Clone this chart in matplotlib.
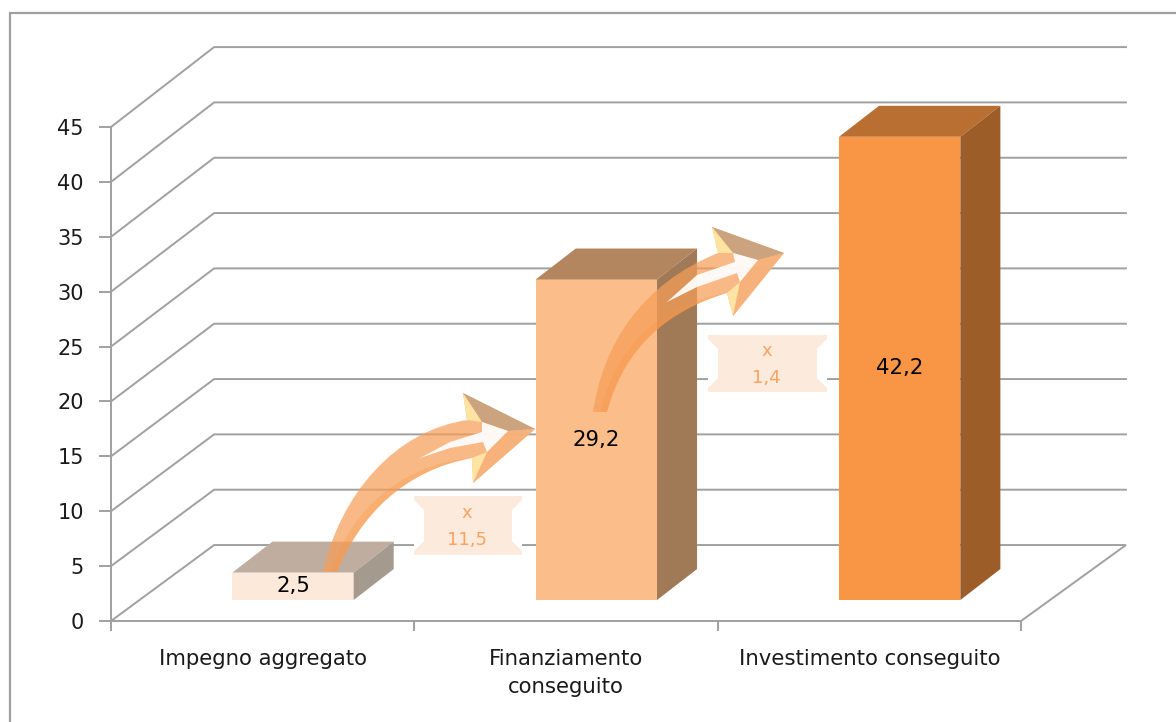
import matplotlib
matplotlib.use('Agg')
import matplotlib.pyplot as plt
from matplotlib.patches import PathPatch, Polygon, Rectangle
from matplotlib.path import Path

categories = ['Impegno aggregato', 'Finanziamento\nconseguito', 'Investimento conseguito']
values = [2.5, 29.2, 42.2]
value_labels = ['2,5', '29,2', '42,2']
y_ticks = [0, 5, 10, 15, 20, 25, 30, 35, 40, 45]
multipliers = ['x\n11,5', 'x\n1,4']

front_colors = ['#FDE9D9', '#FBBE8A', '#F99645']
top_colors = ['#BFAE9F', '#B38660', '#B96F32']
side_colors = ['#A59A8E', '#A07A57', '#9C5D28']
GRID = '#A0A0A0'
TEXT = '#1A1A1A'
ORANGE = '#F79E58'

W, H = 1176, 722
fig = plt.figure(figsize=(W / 100, H / 100), dpi=100, facecolor='white')
ax = fig.add_axes([111 / W, (H - 621) / H, 910 / W, 494 / H])
ax.set_xlim(0, 3)
ax.set_ylim(0, 45)
ax.patch.set_visible(False)

# pseudo 3D: everything is offset from the front plane in data units
wall_dx, wall_dx_right = 0.34, 0.346
bar_w, bar_bottom, bar_shift = 0.4, 1.91, 0.1
depth_x, depth_y = 0.132, 2.82


def wall_y(v):
    return 6.92 + v * 1.008


for v in y_ticks:
    if v == 0:
        continue
    ax.plot([0, wall_dx, 3 + wall_dx_right], [v, wall_y(v), wall_y(v)], color=GRID, lw=1.4,
            clip_on=False, zorder=1, solid_joinstyle='miter')
ax.plot([0, wall_dx, 3 + wall_dx_right, 3], [0, wall_y(0), wall_y(0), 0], color=GRID, lw=1.4,
        clip_on=False, zorder=1, solid_joinstyle='miter')

for i, v in enumerate(values):
    x0 = i + 0.5 + bar_shift - bar_w / 2
    x1 = x0 + bar_w
    top = bar_bottom + v
    ax.bar(x0 + bar_w / 2, v, width=bar_w, bottom=bar_bottom, color=front_colors[i], zorder=3)
    ax.fill([x0, x1, x1 + depth_x, x0 + depth_x], [top, top, top + depth_y, top + depth_y],
            color=top_colors[i], lw=0, zorder=3, clip_on=False)
    ax.fill([x1, x1 + depth_x, x1 + depth_x, x1],
            [bar_bottom, bar_bottom + depth_y, top + depth_y, top],
            color=side_colors[i], lw=0, zorder=3, clip_on=False)
    ax.text(x0 + bar_w / 2, bar_bottom + v / 2, value_labels[i], ha='center', va='center',
            fontsize=15.3, color='black', zorder=6)

for s in ['top', 'right']:
    ax.spines[s].set_visible(False)
for s in ['left', 'bottom']:
    ax.spines[s].set_color(GRID)
    ax.spines[s].set_linewidth(1.4)
ax.set_yticks(y_ticks)
ax.set_xticks([0, 1, 2, 3])
ax.set_xticklabels([])
ax.set_xticks([0.5, 1.5, 2.5], minor=True)
ax.set_xticklabels(categories, minor=True, fontsize=15.3, color=TEXT, linespacing=1.5)
ax.tick_params(axis='y', length=8.5, width=1.4, color=GRID, labelsize=15, labelcolor=TEXT, pad=11)
ax.tick_params(axis='x', which='major', length=7, width=1.4, color=GRID)
ax.tick_params(axis='x', which='minor', length=0, pad=20)

# overlay in image pixels for the frame, the arrows and the multiplier boxes
ov = fig.add_axes([0, 0, 1, 1], zorder=5)
ov.set_xlim(0, W)
ov.set_ylim(H, 0)
ov.axis('off')
ov.plot([10, 10, W], [H, 13, 13], color=GRID, lw=1.6, solid_joinstyle='miter')


def curved_arrow(tail_a, c1, c2, shaft_top, barb_top_in, barb_top, tip, barb_low, barb_low_in,
                 shaft_low, c3, c4, tail_b, white, tail_mid, c5, c6):
    verts = [tail_a, c1, c2, shaft_top, barb_top_in, barb_top, tip, barb_low, barb_low_in, shaft_low,
             c3, c4, tail_b, tail_a]
    codes = [Path.MOVETO, Path.CURVE4, Path.CURVE4, Path.CURVE4, Path.LINETO, Path.LINETO, Path.LINETO,
             Path.LINETO, Path.LINETO, Path.LINETO, Path.CURVE4, Path.CURVE4, Path.CURVE4, Path.CLOSEPOLY]
    ov.add_patch(PathPatch(Path(verts, codes), fc=ORANGE, ec='none', alpha=0.72, zorder=2))
    # darker band on the lower half of the shaft
    band = [tail_mid, c5, c6, shaft_low, c3, c4, tail_b, tail_mid]
    band_codes = [Path.MOVETO, Path.CURVE4, Path.CURVE4, Path.CURVE4, Path.CURVE4, Path.CURVE4, Path.CURVE4,
                  Path.CLOSEPOLY]
    ov.add_patch(PathPatch(Path(band, band_codes), fc='#F99645', ec='none', alpha=0.3, zorder=3))
    # facets of the head
    ov.add_patch(Polygon([barb_top, tip, white[4], white[3]], fc='#C9A27E', ec='none', alpha=0.95, zorder=4))
    ov.add_patch(Polygon([barb_low, tip, white[4], white[5]], fc='#F6B27A', ec='none', alpha=0.95, zorder=4))
    ov.add_patch(Polygon([barb_top, white[3], barb_top_in], fc='#FFE3A0', ec='none', zorder=5))
    ov.add_patch(Polygon([barb_low, white[5], barb_low_in], fc='#FFE3A0', ec='none', zorder=5))
    ov.add_patch(Polygon(white, fc='white', ec='none', alpha=0.92, zorder=5))


curved_arrow((323, 572), (340, 495), (395, 430), (468, 420), (467, 420), (463, 393), (535, 429),
             (473, 483), (472, 458), (472, 458), (405, 470), (360, 515), (337, 572),
             [(420, 458), (450, 442), (482, 432), (482, 422), (508, 431), (487, 452), (483, 442), (450, 448)],
             (330, 572), (350, 515), (395, 465))
curved_arrow((593, 412), (603, 345), (640, 285), (718, 253), (718, 253), (712, 227), (784, 253),
             (733, 316), (727, 293), (727, 293), (670, 310), (625, 345), (607, 412),
             [(667, 302), (697, 275), (735, 262), (733, 253), (758, 260), (740, 282), (737, 273), (697, 287)],
             (600, 412), (615, 350), (655, 305))


def mult_box(x0, y0, x1, y1, label):
    ov.add_patch(Rectangle((x0, y0), x1 - x0, y1 - y0, fc='#FCEBDD', ec='none', zorder=2))
    n = 10
    ov.add_patch(Polygon([(x0, y0 + 4), (x0 + n, y0 + n + 4), (x0 + n, y1 - n - 4), (x0, y1 - 4)],
                         fc='white', ec='none', zorder=3))
    ov.add_patch(Polygon([(x1, y0 + 4), (x1 - n, y0 + n + 4), (x1 - n, y1 - n - 4), (x1, y1 - 4)],
                         fc='white', ec='none', zorder=3))
    ov.text((x0 + x1) / 2 - 1, (y0 + y1) / 2 + 1, label, ha='center', va='center', fontsize=13,
            color='#F9A35E', linespacing=1.65, zorder=4)


mult_box(414, 496, 522, 555, multipliers[0])
mult_box(708, 335, 827, 392, multipliers[1])

fig.savefig('out.png', dpi=100)
